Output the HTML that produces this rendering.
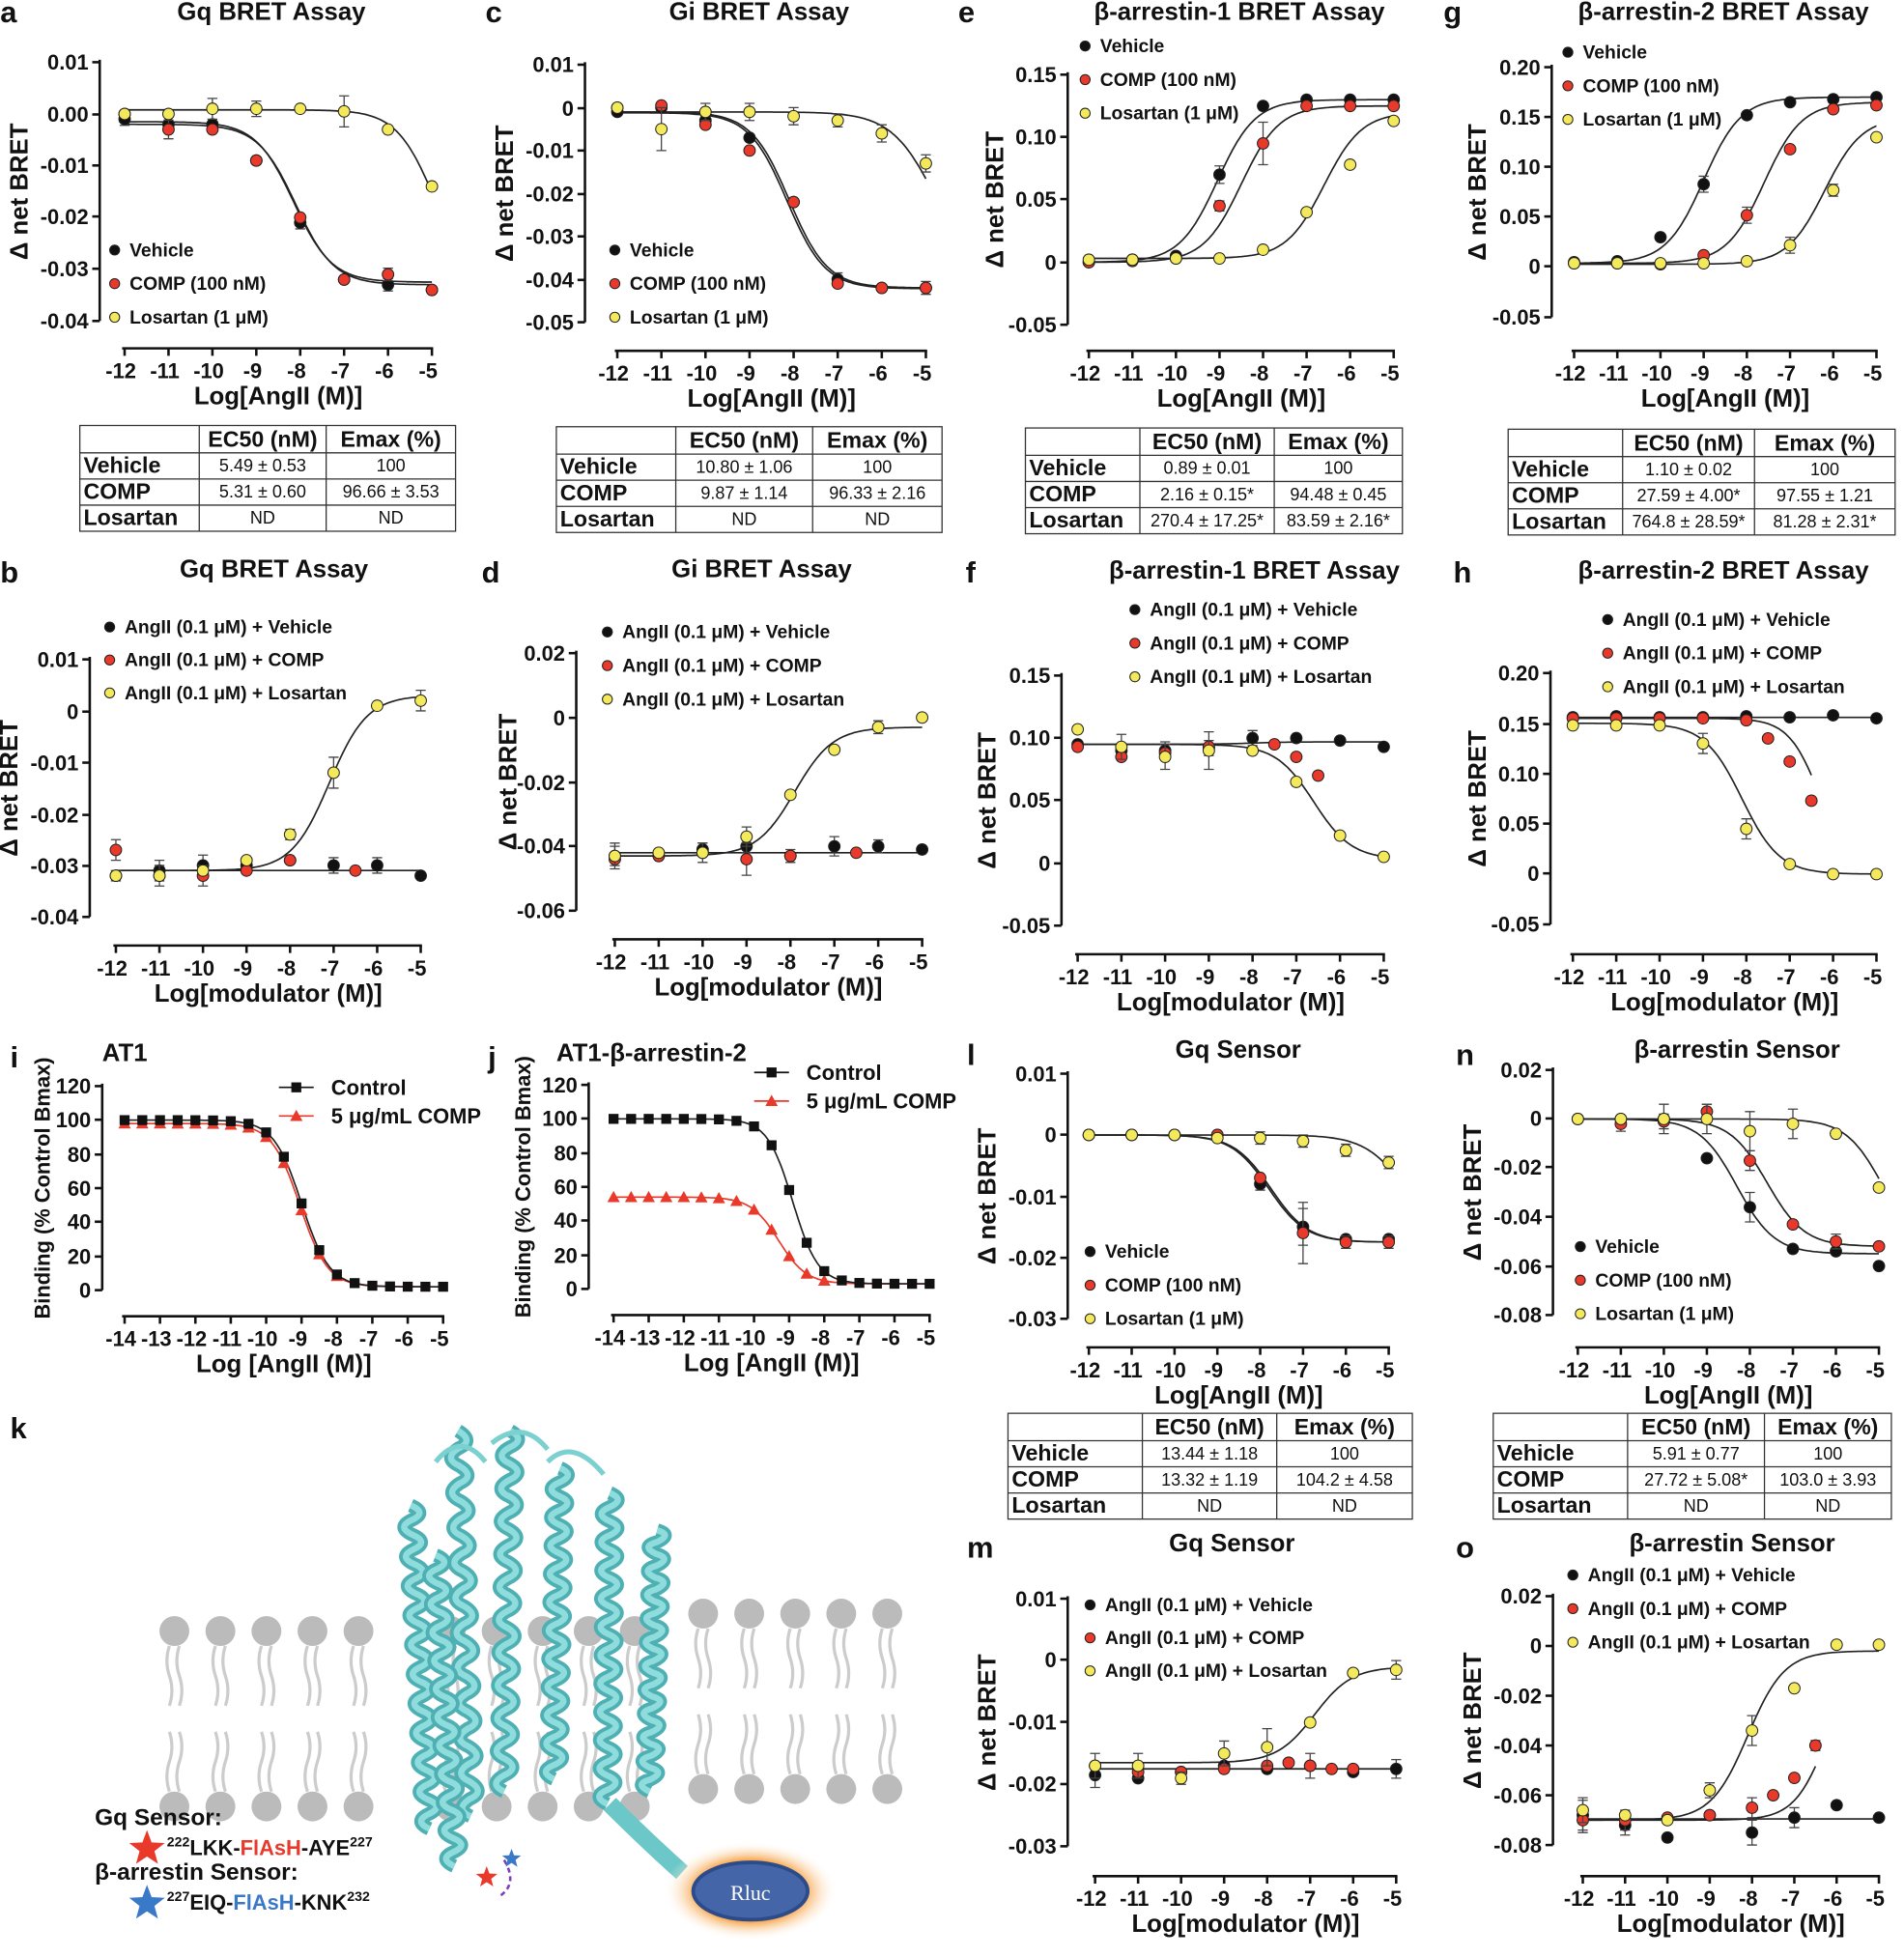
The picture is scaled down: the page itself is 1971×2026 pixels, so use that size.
<!DOCTYPE html>
<html><head><meta charset="utf-8">
<style>
html,body{margin:0;padding:0;background:#fff;}
svg{display:block;}
text{font-family:"Liberation Sans",Arial,sans-serif;font-weight:bold;fill:#111;}
</style></head>
<body>
<svg id="s" width="1971" height="2026" viewBox="0 0 1530 1573" xmlns="http://www.w3.org/2000/svg"></svg>
<script>
const S=document.getElementById('s');let H='';
const BK='#111',RD='#e8392a',YL='#f3e95a';
function T(x,y,s,sz,anc,extra){H+=`<text x="${x}" y="${y}" font-size="${sz}" text-anchor="${anc||'start'}" ${extra||''}>${s}</text>`;}
function mk(type,x,y,c){
 if(type==='sq')H+=`<rect x="${x-4}" y="${y-4}" width="8" height="8" fill="${c}"/>`;
 else if(type==='tri')H+=`<path d="M${x} ${y-5}L${x+5} ${y+4}L${x-5} ${y+4}Z" fill="${c}"/>`;
 else H+=`<circle cx="${x}" cy="${y}" r="4.6" fill="${c}" stroke="#222" stroke-width="0.8"/>`;
}
function panel(p){
 const [t0,t1]=[p.yt[0],p.yt[p.yt.length-1]];
 const Y=v=>t0[1]+(v-t0[0])*(t1[1]-t0[1])/(t1[0]-t0[0]);
 const X=v=>p.x0+(v-p.xmin)*(p.x1-p.x0)/(p.xmax-p.xmin);
 H+=`<line x1="${p.ax}" y1="${t0[1]-2}" x2="${p.ax}" y2="${t1[1]}" stroke="#111" stroke-width="2"/>`;
 p.yt.forEach(t=>{H+=`<line x1="${p.ax-6}" y1="${t[1]}" x2="${p.ax}" y2="${t[1]}" stroke="#111" stroke-width="2"/>`;T(p.ax-9,t[1]+6,t[2],17,'end');});
 H+=`<line x1="${p.x0-2}" y1="${p.xy}" x2="${p.x1+1}" y2="${p.xy}" stroke="#111" stroke-width="2"/>`;
 for(let v=p.xmin;v<=p.xmax;v++){H+=`<line x1="${X(v)}" y1="${p.xy}" x2="${X(v)}" y2="${p.xy+6}" stroke="#111" stroke-width="2"/>`;T(X(v)-3,p.xy+24,v,17,'middle');}
 T((p.x0+p.x1)/2,p.xy+45,p.xl,20,'middle');
 const ym=(t0[1]+t1[1])/2;T(0,0,p.yl||'Δ net BRET',p.ylsz||20,'middle',`transform="translate(${p.ylx||p.ax-56},${ym}) rotate(-90)"`);
 if(p.title)T(p.tx,p.ty,p.title,20,p.ta||'middle');
 p.s.forEach(s=>{
  if(s.c){const [A,B,ec,h]=s.c;const xe=s.xe!==undefined?s.xe:p.xmax;let d='';
   for(let v=p.xmin;v<=xe+1e-9;v+=0.05){const y=A+(B-A)/(1+Math.pow(10,(ec-v)*(h||1)));d+=(d?'L':'M')+X(v).toFixed(1)+' '+Y(y).toFixed(1);}
   H+=`<path d="${d}" fill="none" stroke="${s.lc||'#222'}" stroke-width="1.3"/>`;}
 });
 p.s.forEach(s=>{
  const xs=s.xs||[-12,-11,-10,-9,-8,-7,-6,-5];
  s.v.forEach((v,i)=>{const x=X(xs[i]),y=Y(v);if(s.e&&s.e[i]){const e=Math.abs(Y(v+s.e[i])-y);H+=`<path d="M${x} ${y-e}V${y+e}M${x-4} ${y-e}h8M${x-4} ${y+e}h8" stroke="#444" stroke-width="1"/>`;}mk(s.m,x,y,s.col);});
 });
 if(p.lg)p.lg.forEach((l,i)=>{const [lx,ly]=p.lg0;const yy=ly+i*p.lgd;
  if(l[2]){H+=`<line x1="${lx-14}" y1="${yy}" x2="${lx+14}" y2="${yy}" stroke="${l[1]}" stroke-width="1.3"/>`;mk(l[2],lx,yy,l[1]);T(lx+28,yy+6,l[0],17);}
  else{H+=`<circle cx="${lx}" cy="${yy}" r="4" fill="${l[1]}" stroke="#222" stroke-width="0.8"/>`;T(lx+12,yy+5,l[0],15);}
 });
}
function table(x0,y0,w,rows,c1,c2){
 const rh=[22,21,21,21];const cols=[x0,x0+c1,x0+c1+c2,x0+w];let y=y0;const hgt=rh.reduce((a,b)=>a+b);
 H+=`<rect x="${x0}" y="${y0}" width="${w}" height="${hgt}" fill="none" stroke="#333" stroke-width="1"/>`;
 [1,2].forEach(i=>H+=`<line x1="${cols[i]}" y1="${y0}" x2="${cols[i]}" y2="${y0+hgt}" stroke="#333"/>`);
 rows.forEach((r,i)=>{if(i>0)H+=`<line x1="${x0}" y1="${y}" x2="${x0+w}" y2="${y}" stroke="#333"/>`;
  const yy=y+rh[i]-5;
  if(i===0){T((cols[1]+cols[2])/2,yy,r[1],18,'middle');T((cols[2]+cols[3])/2,yy,r[2],18,'middle');}
  else{T(x0+3,yy,r[0],18);H+=`<text x="${(cols[1]+cols[2])/2}" y="${yy-1}" font-size="14" text-anchor="middle" style="font-weight:normal">${r[1]}</text><text x="${(cols[2]+cols[3])/2}" y="${yy-1}" font-size="14" text-anchor="middle" style="font-weight:normal">${r[2]}</text>`;}
  y+=rh[i];});
}
const lgA=[['Vehicle',BK],['COMP (100 nM)',RD],['Losartan (1 μM)',YL]];
const lgB=[['AngII (0.1 μM) + Vehicle',BK],['AngII (0.1 μM) + COMP',RD],['AngII (0.1 μM) + Losartan',YL]];
const E=0.0012;
// a
panel({ax:80,yt:[[0.01,50,'0.01'],[0,92,'0.00'],[-0.01,133,'-0.01'],[-0.02,174,'-0.02'],[-0.03,216,'-0.03'],[-0.04,258,'-0.04']],xy:280,x0:100,x1:347,xmin:-12,xmax:-5,xl:'Log[AngII (M)]',title:'Gq BRET Assay',tx:218,ty:16,ylx:22,
 s:[{col:BK,c:[-0.002,-0.033,-8.1],v:[-0.001,-0.002,-0.002,-0.009,-0.021,-0.032,-0.033,-0.034],e:[E,0,0,0,E,0,E,0]},
 {col:RD,c:[-0.0015,-0.0325,-8.15],v:[0,-0.003,-0.003,-0.009,-0.020,-0.032,-0.031,-0.034],e:[0,E*1.5,0,0,0,0,E,0]},
 {col:YL,c:[0.0008,-0.033,-4.95],v:[0,0,0.001,0.001,0.001,0.0005,-0.003,-0.014],e:[0,0,0.002,0.0015,0,0.003,0,0]}],
 lg:lgA,lg0:[92,201],lgd:27});
table(64,342,302,[['','EC50 (nM)','Emax (%)'],['Vehicle','5.49 ± 0.53','100'],['COMP','5.31 ± 0.60','96.66 ± 3.53'],['Losartan','ND','ND']],96,102);
// c
panel({ax:470,yt:[[0.01,52,'0.01'],[0,87,'0'],[-0.01,121,'-0.01'],[-0.02,156,'-0.02'],[-0.03,190,'-0.03'],[-0.04,225,'-0.04'],[-0.05,259,'-0.05']],xy:282,x0:496,x1:744,xmin:-12,xmax:-5,xl:'Log[AngII (M)]',title:'Gi BRET Assay',tx:610,ty:16,ylx:412,
 s:[{col:BK,c:[-0.001,-0.042,-8.1],v:[-0.001,0,-0.003,-0.007,-0.022,-0.040,-0.042,-0.042],e:[0,0,0.001,0,0,0.0015,0,0.0015]},
 {col:RD,c:[-0.0012,-0.0422,-8.15],v:[0,0.0005,-0.004,-0.010,-0.022,-0.041,-0.042,-0.042]},
 {col:YL,c:[-0.001,-0.042,-4.75,0.85],v:[0,-0.005,-0.001,-0.001,-0.002,-0.003,-0.006,-0.013],e:[0,0.005,0.002,0.002,0.002,0.0015,0.002,0.002]}],
 lg:lgA,lg0:[494,201],lgd:27});
table(447,343,310,[['','EC50 (nM)','Emax (%)'],['Vehicle','10.80 ± 1.06','100'],['COMP','9.87 ± 1.14','96.33 ± 2.16'],['Losartan','ND','ND']],96,110);
// e
panel({ax:858,yt:[[0.15,60,'0.15'],[0.10,110,'0.10'],[0.05,160,'0.05'],[0,211,'0'],[-0.05,261,'-0.05']],xy:282,x0:875,x1:1120,xmin:-12,xmax:-5,xl:'Log[AngII (M)]',title:'β-arrestin-1 BRET Assay',tx:996,ty:16,ylx:806,
 s:[{col:BK,c:[0,0.13,-9.05],v:[0,0.002,0.005,0.07,0.125,0.13,0.13,0.13],e:[0,0,0,0.007,0,0,0,0]},
 {col:RD,c:[0,0.125,-8.5],v:[0,0.001,0.003,0.045,0.095,0.125,0.125,0.125],e:[0,0,0,0.004,0.017,0,0,0]},
 {col:YL,c:[0.003,0.12,-6.6],v:[0.002,0.002,0.003,0.003,0.01,0.04,0.078,0.113]}],
 lg:lgA,lg0:[872,37],lgd:27});
table(824,344,303,[['','EC50 (nM)','Emax (%)'],['Vehicle','0.89 ± 0.01','100'],['COMP','2.16 ± 0.15*','94.48 ± 0.45'],['Losartan','270.4 ± 17.25*','83.59 ± 2.16*']],92,108);
// g
panel({ax:1247,yt:[[0.20,54,'0.20'],[0.15,94,'0.15'],[0.10,134,'0.10'],[0.05,174,'0.05'],[0,214,'0'],[-0.05,255,'-0.05']],xy:282,x0:1265,x1:1508,xmin:-12,xmax:-5,xl:'Log[AngII (M)]',title:'β-arrestin-2 BRET Assay',tx:1385,ty:16,ylx:1194,
 s:[{col:BK,c:[0.004,0.17,-9.0],v:[0.005,0.006,0.03,0.083,0.152,0.165,0.168,0.17],e:[0,0,0,0.008,0,0,0,0]},
 {col:RD,c:[0.004,0.165,-7.6],v:[0.004,0.004,0.003,0.012,0.052,0.118,0.158,0.162],e:[0,0,0,0,0.008,0,0,0]},
 {col:YL,c:[0.003,0.15,-6.2],v:[0.004,0.004,0.004,0.004,0.006,0.022,0.077,0.13],e:[0,0,0,0,0,0.008,0.006,0]}],
 lg:lgA,lg0:[1260,42],lgd:27});
table(1212,345,311,[['','EC50 (nM)','Emax (%)'],['Vehicle','1.10 ± 0.02','100'],['COMP','27.59 ± 4.00*','97.55 ± 1.21'],['Losartan','764.8 ± 28.59*','81.28 ± 2.31*']],92,106);
// b
panel({ax:72,yt:[[0.01,530,'0.01'],[0,572,'0'],[-0.01,613,'-0.01'],[-0.02,655,'-0.02'],[-0.03,696,'-0.03'],[-0.04,737,'-0.04']],xy:760,x0:93,x1:338,xmin:-12,xmax:-5,xl:'Log[modulator (M)]',title:'Gq BRET Assay',tx:220,ty:464,ylx:14,
 s:[{col:BK,c:[-0.031,-0.031,-8],v:[-0.032,-0.031,-0.030,-0.030,-0.029,-0.030,-0.030,-0.032],e:[0.001,0.002,0.002,0,0,0.0015,0.0015,0]},
 {col:RD,xs:[-12,-11,-10,-9,-8,-6.5],v:[-0.027,-0.032,-0.032,-0.031,-0.029,-0.031],e:[0.002,0,0.002,0,0,0]},
 {col:YL,c:[-0.031,0.003,-7.1],v:[-0.032,-0.032,-0.031,-0.029,-0.024,-0.012,0.001,0.002],e:[0,0.002,0,0,0.001,0.003,0,0.002]}],
 lg:lgB,lg0:[88,504],lgd:26.5});
// d
panel({ax:463,yt:[[0.02,525,'0.02'],[0,577,'0'],[-0.02,629,'-0.02'],[-0.04,680,'-0.04'],[-0.06,732,'-0.06']],xy:755,x0:494,x1:741,xmin:-12,xmax:-5,xl:'Log[modulator (M)]',title:'Gi BRET Assay',tx:612,ty:464,ylx:415,
 s:[{col:BK,c:[-0.042,-0.042,-8],v:[-0.043,-0.043,-0.041,-0.040,-0.043,-0.040,-0.040,-0.041],e:[0.003,0,0.002,0.002,0.002,0.003,0.002,0]},
 {col:RD,xs:[-12,-11,-10,-9,-8,-6.5],v:[-0.044,-0.043,-0.042,-0.044,-0.043,-0.042],e:[0,0,0,0.005,0,0]},
 {col:YL,c:[-0.043,-0.003,-7.9],v:[-0.043,-0.042,-0.042,-0.037,-0.024,-0.010,-0.003,0],e:[0.004,0,0.003,0.003,0,0,0.002,0]}],
 lg:lgB,lg0:[488,508],lgd:27});
// f
panel({ax:853,yt:[[0.15,543,'0.15'],[0.10,593,'0.10'],[0.05,643,'0.05'],[0,694,'0'],[-0.05,744,'-0.05']],xy:767,x0:866,x1:1112,xmin:-12,xmax:-5,xl:'Log[modulator (M)]',title:'β-arrestin-1 BRET Assay',tx:1008,ty:465,ylx:800,
 s:[{col:BK,c:[0.095,0.097,-8],v:[0.095,0.09,0.09,0.092,0.1,0.1,0.098,0.093],e:[0,0,0.007,0.006,0.006,0,0,0]},
 {col:RD,xs:[-12,-11,-10,-9,-7.5,-7,-6.5],v:[0.093,0.085,0.088,0.093,0.095,0.085,0.07]},
 {col:YL,c:[0.095,0.003,-6.6],v:[0.107,0.093,0.085,0.09,0.09,0.065,0.022,0.005],e:[0,0.01,0.01,0.015,0,0,0,0]}],
 lg:lgB,lg0:[912,490],lgd:27});
// h
panel({ax:1246,yt:[[0.20,541,'0.20'],[0.15,582,'0.15'],[0.10,622,'0.10'],[0.05,662,'0.05'],[0,702,'0'],[-0.05,743,'-0.05']],xy:767,x0:1264,x1:1508,xmin:-12,xmax:-5,xl:'Log[modulator (M)]',title:'β-arrestin-2 BRET Assay',tx:1385,ty:465,ylx:1194,
 s:[{col:BK,c:[0.156,0.156,-8],v:[0.156,0.157,0.156,0.156,0.157,0.156,0.158,0.155]},
 {col:RD,c:[0.155,0,-6.3,1.2],xe:-6.5,xs:[-12,-11,-10,-9,-8,-7.5,-7,-6.5],v:[0.155,0.155,0.155,0.155,0.153,0.135,0.112,0.073]},
 {col:YL,c:[0.15,0,-8.1],v:[0.148,0.148,0.148,0.13,0.045,0.01,0,0],e:[0,0,0,0.01,0.01,0,0,0]}],
 lg:lgB,lg0:[1292,498],lgd:27});
// i
function bind(A,B,ec,h){const v=[],xs=[];for(let x=-14;x<=-5;x+=0.5){xs.push(x);v.push(A+(B-A)/(1+Math.pow(10,(ec-x)*h)));}return {v,xs};}
let bi=bind(100,2,-9.0,1.1),bi2=bind(98,2,-9.05,1.1);
panel({ax:82,yt:[[120,873,'120'],[100,900,'100'],[80,928,'80'],[60,955,'60'],[40,982,'40'],[20,1010,'20'],[0,1037,'0']],xy:1058,x0:100,x1:356,xmin:-14,xmax:-5,xl:'Log [AngII (M)]',yl:'Binding (% Control Bmax)',ylsz:17,ylx:40,title:'AT1',tx:82,ty:853,ta:'start',
 s:[{col:RD,lc:RD,m:'tri',c:[98,2,-9.05,1.1],v:bi2.v,xs:bi2.xs.filter((x,i)=>i<13)},{col:BK,m:'sq',c:[100,2,-9.0,1.1],v:bi.v,xs:bi.xs}],
 lg:[['Control',BK,'sq'],['5 μg/mL COMP',RD,'tri']],lg0:[238,874],lgd:23});
// j
let bj=bind(100,3,-8.9,1.2),bj2=bind(54,3,-9.3,1.1);
panel({ax:473,yt:[[120,872,'120'],[100,899,'100'],[80,927,'80'],[60,954,'60'],[40,981,'40'],[20,1009,'20'],[0,1036,'0']],xy:1057,x0:493,x1:747,xmin:-14,xmax:-5,xl:'Log [AngII (M)]',yl:'Binding (% Control Bmax)',ylsz:17,ylx:426,title:'AT1-β-arrestin-2',tx:447,ty:853,ta:'start',
 s:[{col:RD,lc:RD,m:'tri',c:[54,3,-9.3,1.1],v:bj2.v.slice(0,13),xs:bj2.xs.slice(0,13)},{col:BK,m:'sq',c:[100,3,-8.9,1.2],v:bj.v,xs:bj.xs}],
 lg:[['Control',BK,'sq'],['5 μg/mL COMP',RD,'tri']],lg0:[620,862],lgd:23});
// l
panel({ax:858,yt:[[0.01,863,'0.01'],[0,912,'0'],[-0.01,962,'-0.01'],[-0.02,1011,'-0.02'],[-0.03,1060,'-0.03']],xy:1083,x0:875,x1:1116,xmin:-12,xmax:-5,xl:'Log[AngII (M)]',title:'Gq Sensor',tx:995,ty:850,ylx:800,
 s:[{col:BK,c:[0,-0.0175,-7.8],v:[0,0,0,0,-0.008,-0.015,-0.017,-0.017],e:[0,0,0,0,0.001,0.003,0,0]},
 {col:RD,c:[0,-0.0175,-7.75],v:[0,0,0,0,-0.007,-0.016,-0.0175,-0.0175],e:[0,0,0,0,0,0.005,0.001,0.001]},
 {col:YL,c:[0,-0.0175,-4.6,0.9],v:[0,0,0,-0.0005,-0.0005,-0.001,-0.0025,-0.0045],e:[0,0,0,0,0.001,0.001,0.001,0.001]}],
 lg:lgA,lg0:[876,1006],lgd:27});
table(810,1136,325,[['','EC50 (nM)','Emax (%)'],['Vehicle','13.44 ± 1.18','100'],['COMP','13.32 ± 1.19','104.2 ± 4.58'],['Losartan','ND','ND']],108,108);
// n
panel({ax:1248,yt:[[0.02,860,'0.02'],[0,899,'0'],[-0.02,938,'-0.02'],[-0.04,978,'-0.04'],[-0.06,1018,'-0.06'],[-0.08,1057,'-0.08']],xy:1083,x0:1268,x1:1510,xmin:-12,xmax:-5,xl:'Log[AngII (M)]',title:'β-arrestin Sensor',tx:1396,ty:850,ylx:1190,
 s:[{col:BK,c:[0,-0.055,-8.3],v:[0,0,0,-0.016,-0.036,-0.053,-0.054,-0.06],e:[0,0,0.006,0,0.006,0,0,0]},
 {col:RD,c:[0,-0.052,-7.6],v:[0,-0.002,-0.001,0.003,-0.017,-0.043,-0.05,-0.052],e:[0,0.003,0.003,0.003,0.004,0,0.003,0]},
 {col:YL,c:[0,-0.055,-4.9],v:[0,0,0,0,-0.005,-0.002,-0.006,-0.028],e:[0,0,0,0.006,0.008,0.006,0,0]}],
 lg:lgA,lg0:[1270,1002],lgd:27});
table(1200,1136,320,[['','EC50 (nM)','Emax (%)'],['Vehicle','5.91 ± 0.77','100'],['COMP','27.72 ± 5.08*','103.0 ± 3.93'],['Losartan','ND','ND']],108,110);
// m
panel({ax:858,yt:[[0.01,1285,'0.01'],[0,1334,'0'],[-0.01,1384,'-0.01'],[-0.02,1434,'-0.02'],[-0.03,1484,'-0.03']],xy:1508,x0:880,x1:1122,xmin:-12,xmax:-5,xl:'Log[modulator (M)]',title:'Gq Sensor',tx:990,ty:1247,ylx:800,
 s:[{col:BK,c:[-0.0175,-0.0175,-8],v:[-0.0185,-0.019,-0.018,-0.017,-0.0175,-0.017,-0.018,-0.0175],e:[0.002,0,0,0,0,0.002,0,0.0015]},
 {col:RD,xs:[-12,-11,-10,-9,-8,-7.5,-7,-6.5,-6],v:[-0.017,-0.018,-0.018,-0.0175,-0.017,-0.0165,-0.017,-0.0175,-0.0175]},
 {col:YL,c:[-0.0165,-0.001,-6.9],v:[-0.017,-0.017,-0.019,-0.015,-0.014,-0.010,-0.002,-0.0015],e:[0.002,0.002,0.001,0.002,0.003,0,0,0.0015]}],
 lg:lgB,lg0:[876,1290],lgd:26.5});
// o
panel({ax:1248,yt:[[0.02,1283,'0.02'],[0,1323,'0'],[-0.02,1363,'-0.02'],[-0.04,1403,'-0.04'],[-0.06,1443,'-0.06'],[-0.08,1483,'-0.08']],xy:1508,x0:1272,x1:1510,xmin:-12,xmax:-5,xl:'Log[modulator (M)]',title:'β-arrestin Sensor',tx:1392,ty:1247,ylx:1190,
 s:[{col:BK,c:[-0.0695,-0.0695,-8],v:[-0.068,-0.072,-0.077,-0.068,-0.075,-0.069,-0.064,-0.069],e:[0.006,0.004,0,0,0.005,0.004,0,0]},
 {col:RD,c:[-0.07,-0.002,-6.2,1.1],xe:-6.5,xs:[-12,-11,-10,-9,-8,-7.5,-7,-6.5],v:[-0.07,-0.07,-0.069,-0.068,-0.065,-0.06,-0.053,-0.04],e:[0.005,0.004,0,0,0.004,0,0,0.002]},
 {col:YL,c:[-0.07,-0.002,-8.1],v:[-0.066,-0.068,-0.07,-0.058,-0.034,-0.017,0.0005,0.0005],e:[0.005,0,0,0.003,0.006,0,0,0]}],
 lg:lgB,lg0:[1264,1266],lgd:27});
// panel letters
[['a',0,12],['c',390,12],['e',770,12],['g',1160,12],['b',0,462],['d',387,462],['f',776,462],['h',1168,462],['i',8,852],['j',392,852],['l',777,850],['n',1170,850],['k',8,1150],['m',777,1246],['o',1170,1246]].forEach(l=>T(l[1],l[2]+6,l[0],24));
// panel k membrane
let mem='';
for(let i=0;i<11;i++){const x=140+i*37;if(x>300&&x<330)continue;
 mem+=`<circle cx="${x}" cy="1311" r="12" fill="#bbb"/><circle cx="${x}" cy="1452" r="12" fill="#bbb"/>`;
 mem+=`<path d="M${x-4} 1323 q-4 12 0 24 q4 12 0 24 M${x+4} 1323 q-4 12 0 24 q4 12 0 24 M${x-4} 1440 q-4 -12 0 -24 q4 -12 0 -24 M${x+4} 1440 q-4 -12 0 -24 q4 -12 0 -24" stroke="#ccc" stroke-width="2.5" fill="none"/>`;}
for(let i=0;i<5;i++){const x=565+i*37;
 mem+=`<circle cx="${x}" cy="1297" r="12" fill="#bbb"/><circle cx="${x}" cy="1438" r="12" fill="#bbb"/>`;
 mem+=`<path d="M${x-4} 1309 q-4 12 0 24 q4 12 0 24 M${x+4} 1309 q-4 12 0 24 q4 12 0 24 M${x-4} 1426 q-4 -12 0 -24 q4 -12 0 -24 M${x+4} 1426 q-4 -12 0 -24 q4 -12 0 -24" stroke="#ccc" stroke-width="2.5" fill="none"/>`;}
H+=mem;
// helices
const hel=[[330,1210,345,1470],[368,1150,378,1460],[410,1150,405,1440],[450,1180,445,1430],[490,1200,488,1450],[528,1230,522,1440],[350,1250,365,1500]];
hel.forEach(h=>{let d=`M${h[0]} ${h[1]}`;const n=22;for(let k=1;k<=n;k++){const x=h[0]+(h[2]-h[0])*k/n,y=h[1]+(h[3]-h[1])*k/n;d+=` Q${x+(k%2?13:-13)} ${y-6} ${x} ${y}`;}
 H+=`<path d="${d}" stroke="#4fb0b4" stroke-width="11" fill="none"/><path d="${d}" stroke="#8fdcdc" stroke-width="5" fill="none"/>`;});
H+=`<path d="M350 1175 q20 -25 40 0 M395 1160 q25 -20 45 5 M440 1175 q20 -20 45 10" stroke="#7cd0d0" stroke-width="4" fill="none"/>`;
H+=`<path d="M490 1450 Q520 1480 548 1505" stroke="#6cc8c8" stroke-width="14" fill="none"/>`;
H+=`<path d="M405 1495 q12 20 -5 30" stroke="#7a3fc0" stroke-width="2" stroke-dasharray="4 3" fill="none"/>`;
H+=`<defs><radialGradient id="gl"><stop offset="0.6" stop-color="#f7a040"/><stop offset="1" stop-color="#fff" stop-opacity="0"/></radialGradient></defs>`;
H+=`<ellipse cx="603" cy="1520" rx="70" ry="40" fill="url(#gl)"/><ellipse cx="603" cy="1520" rx="46" ry="23" fill="#4466a8" stroke="#2b4b8a" stroke-width="3"/>`;
H+=`<text x="603" y="1527" font-size="17" text-anchor="middle" style="font-family:'Liberation Serif',serif;font-weight:normal;fill:#fff">Rluc</text>`;
function star(cx,cy,r,c){let d='';for(let k=0;k<10;k++){const a=-Math.PI/2+k*Math.PI/5,rr=k%2?r*0.42:r;d+=(k?'L':'M')+(cx+rr*Math.cos(a)).toFixed(1)+' '+(cy+rr*Math.sin(a)).toFixed(1);}H+=`<path d="${d}Z" fill="${c}"/>`;}
star(391,1509,9,'#e8392a');star(411,1494,8,'#3a78c8');
T(76,1467,'Gq Sensor:',19);star(118,1486,15,'#e8392a');
H+=`<text x="134" y="1491" font-size="17"><tspan font-size="11" dy="-7">222</tspan><tspan dy="7">LKK-</tspan><tspan style="fill:#e8392a">FlAsH</tspan><tspan>-AYE</tspan><tspan font-size="11" dy="-7">227</tspan></text>`;
T(76,1511,'β-arrestin Sensor:',19);star(118,1530,15,'#3a78c8');
H+=`<text x="134" y="1535" font-size="17"><tspan font-size="11" dy="-7">227</tspan><tspan dy="7">EIQ-</tspan><tspan style="fill:#3a78c8">FlAsH</tspan><tspan>-KNK</tspan><tspan font-size="11" dy="-7">232</tspan></text>`;
S.innerHTML=H;
</script>
</body></html>
